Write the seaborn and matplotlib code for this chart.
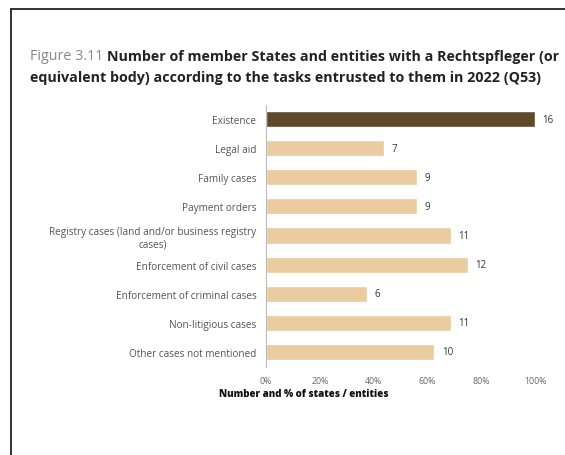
import matplotlib
matplotlib.use("Agg")
import matplotlib.pyplot as plt
from matplotlib.lines import Line2D
import seaborn as sns
import pandas as pd

categories = ["Existence", "Legal aid", "Family cases", "Payment orders",
              "Registry cases (land and/or business registry\ncases)",
              "Enforcement of civil cases", "Enforcement of criminal cases",
              "Non-litigious cases", "Other cases not mentioned"]
counts = [16, 7, 9, 9, 11, 12, 6, 11, 10]
total = 16
tick_labels = ["0%", "20%", "40%", "60%", "80%", "100%"]

df = pd.DataFrame({"task": categories, "count": counts})
df["share"] = df["count"] / total
df["kind"] = ["existence"] + ["task"] * (len(df) - 1)

sns.set_theme(style="white")
plt.rcParams["font.family"] = ["Open Sans", "DejaVu Sans"]

W, H = 565, 456
fig = plt.figure(figsize=(W / 100, H / 100), dpi=100)
ax = fig.add_axes([266 / W, 1 - 367.5 / H, (535 - 266) / W, (367.5 - 105.5) / H])

sns.barplot(data=df, y="task", x="share", hue="kind",
            palette={"existence": "#5e4a28", "task": "#ebcba0"},
            saturation=1, width=0.55, dodge=False, legend=False, ax=ax)

for i, c in enumerate(df["count"]):
    ax.text(df["share"][i] + 0.028, i, str(c), va="center", ha="left",
            fontsize=7, color="#333333")

ax.set_xlim(0, 1)
ax.set_xticks([0, 0.2, 0.4, 0.6, 0.8, 1.0])
ax.set_xticklabels(tick_labels)
ax.set_xlabel("")
ax.set_ylabel("")
ax.tick_params(axis="y", length=0, labelsize=7.2, colors="#555555", pad=7)
ax.tick_params(axis="x", length=0, labelsize=6.3, colors="#666666", pad=7)
for lab in ax.get_yticklabels():
    lab.set_multialignment("center")
for s in ["top", "right", "bottom"]:
    ax.spines[s].set_visible(False)
ax.spines["left"].set_color("#bbbbbb")
ax.spines["left"].set_linewidth(0.8)

fig.text(304 / W, 1 - 395 / H, "Number and % of states / entities",
         ha="center", va="center", fontsize=7, fontweight="heavy", color="#111111")

t1 = fig.text(30 / W, 1 - 57 / H, "Figure 3.11 ", ha="left", va="center",
              fontsize=10.3, color="#888888")
fig.canvas.draw()
bb = t1.get_window_extent()
fig.text(bb.x1 / W, 1 - 57 / H,
         "Number of member States and entities with a Rechtspfleger (or",
         ha="left", va="center", fontsize=10.3, fontweight="bold", color="#222222")
fig.text(30 / W, 1 - 78 / H,
         "equivalent body) according to the tasks entrusted to them in 2022 (Q53)",
         ha="left", va="center", fontsize=10.3, fontweight="bold", color="#222222")

fig.add_artist(Line2D([11 / W, 11 / W], [0, 1 - 10 / H], color="#111111", lw=1.2))
fig.add_artist(Line2D([11 / W, 1], [1 - 10 / H, 1 - 10 / H], color="#111111", lw=1.2))

fig.savefig("out.png", dpi=100)
